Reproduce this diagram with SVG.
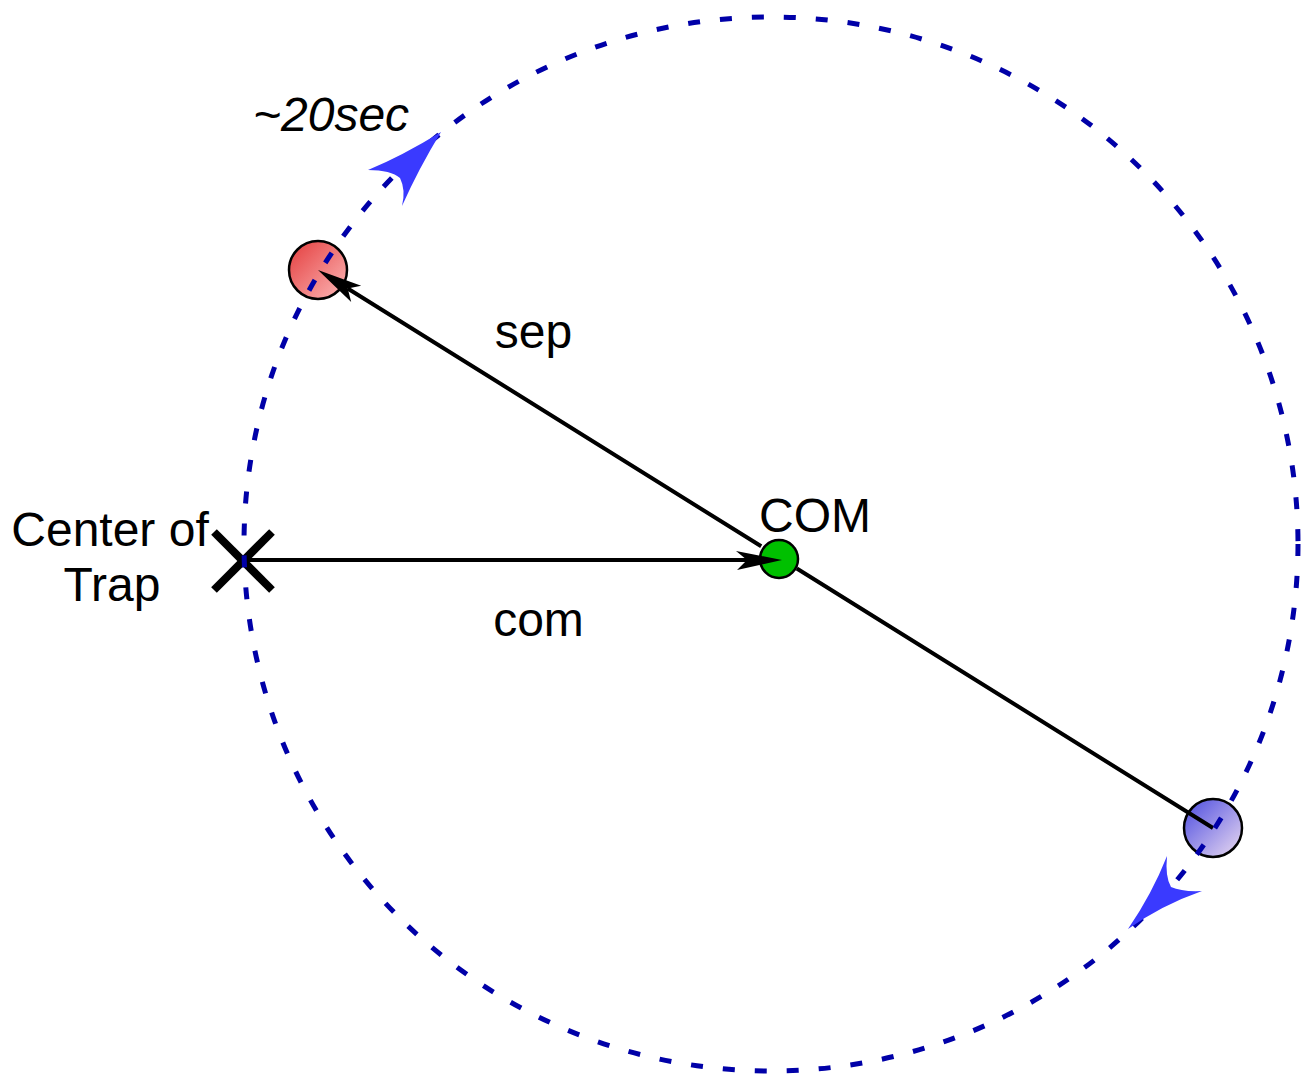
<svg xmlns="http://www.w3.org/2000/svg" width="1307" height="1074" viewBox="0 0 1307 1074">
<style>
text{font-family:"Liberation Sans",Arial,sans-serif;font-size:48px;fill:#000}
.ball{stroke:#000;stroke-width:2.5}
.line{stroke:#000;stroke-width:4;fill:none}
.head{fill:#000;stroke:none}
.orbit{fill:none;stroke:#0000a8;stroke-width:5;stroke-dasharray:12 20}
.dir{fill:#3a3aff;stroke:none}
</style>
<defs>
<linearGradient id="gRed" x1="0" y1="0" x2="1" y2="1">
<stop offset="0" stop-color="#e43c3c"/>
<stop offset="1" stop-color="#fcb8b8"/>
</linearGradient>
<linearGradient id="gBlue" x1="0" y1="0" x2="1" y2="1">
<stop offset="0" stop-color="#4a4ae0"/>
<stop offset="1" stop-color="#ecdcf0"/>
</linearGradient>
</defs>
<rect width="1307" height="1074" fill="#fff"/>
<g id="red-particle"><circle class="ball" cx="318" cy="270" r="29" fill="url(#gRed)"/></g>
<g id="blue-particle"><circle class="ball" cx="1213" cy="828" r="29" fill="url(#gBlue)"/></g>
<g id="center-of-trap">
<line x1="214" y1="532" x2="272" y2="590" stroke="#000" stroke-width="8"/>
<line x1="272" y1="532" x2="214" y2="590" stroke="#000" stroke-width="8"/>
<text x="110" y="546" text-anchor="middle">Center of</text>
<text x="112" y="601" text-anchor="middle">Trap</text>
</g>
<g id="com-point">
<circle class="ball" cx="779" cy="559" r="19" fill="#00c000"/>
<text x="815" y="532" text-anchor="middle">COM</text>
</g>
<g id="connectors">
<path class="line" d="M1213,828 L796.8,568.5 M761.2,546.3 L347.7,288.5"/>
<path class="head" d="M318,270 L361.2,285.7 L347.7,288.5 L351.2,301.9 Z"/>
<line class="line" x1="243" y1="560" x2="750" y2="560"/>
<path class="head" d="M782,560 L736,551 L747,560 L737,570 Z"/>
<circle class="orbit" cx="771" cy="544" r="527"/>
<path class="dir" d="M441,132 Q402,156 368,170 Q391,170 400,178 Q406,190 402,206 Q419,168 441,132 Z"/>
<path class="dir" d="M1128,929 Q1152,894 1167,856 Q1165,877 1171,887 Q1182,892 1202,891 Q1162,905 1128,929 Z"/>
</g>
<g id="labels">
<text x="533.5" y="348" text-anchor="middle">sep</text>
<text x="538.5" y="636" text-anchor="middle">com</text>
<text x="253" y="131" font-style="italic">~20sec</text>
</g>
</svg>
